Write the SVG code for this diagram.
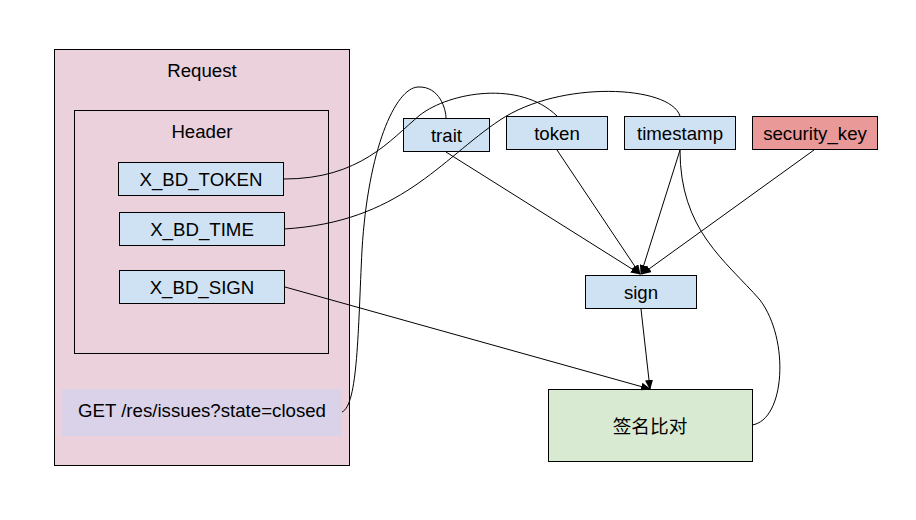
<svg xmlns="http://www.w3.org/2000/svg" width="916" height="520" viewBox="0 0 916 520">
<defs>
<style>
.box{stroke:#000;stroke-width:1}
.blue{fill:#cfe2f3}
.t{font-family:"Liberation Sans",Arial,sans-serif;font-size:18.67px;fill:#000;text-anchor:middle}
.cjk{font-family:"Liberation Sans","Noto Sans CJK SC",sans-serif;font-size:18.67px;fill:#000;text-anchor:middle;dominant-baseline:central}
.c{fill:none;stroke:#000;stroke-width:1}
</style>
<marker id="ah" markerWidth="10" markerHeight="8" refX="9" refY="4" orient="auto" markerUnits="userSpaceOnUse">
<path d="M0,0 L10,4 L0,8 Z" fill="#000"/>
</marker>
</defs>
<rect width="916" height="520" fill="#fff"/>
<g id="request">
<rect class="box" x="54.5" y="49.5" width="295" height="416" fill="#ead1dc"/>
<text class="t" x="202" y="77">Request</text>
</g>
<g id="header">
<rect class="box" x="74.5" y="110.5" width="254" height="243" fill="none"/>
<text class="t" x="202" y="138">Header</text>
</g>
<g id="x_bd_token">
<rect class="box blue" x="118.5" y="162.5" width="165" height="33"/>
<text class="t" x="201" y="186">X_BD_TOKEN</text>
</g>
<g id="x_bd_time">
<rect class="box blue" x="119.5" y="212.5" width="165" height="33"/>
<text class="t" x="202" y="236">X_BD_TIME</text>
</g>
<g id="x_bd_sign">
<rect class="box blue" x="119.5" y="270.5" width="165" height="33"/>
<text class="t" x="202" y="294">X_BD_SIGN</text>
</g>
<g id="get">
<rect x="62" y="389" width="280" height="47" fill="#d9d2e9"/>
<text class="t" x="202" y="417">GET /res/issues?state=closed</text>
</g>
<g id="trait">
<rect class="box blue" x="403.5" y="118.5" width="86" height="33"/>
<text class="t" x="446.5" y="141.5">trait</text>
</g>
<g id="token">
<rect class="box blue" x="506.5" y="116.5" width="101" height="33"/>
<text class="t" x="557" y="140">token</text>
</g>
<g id="timestamp">
<rect class="box blue" x="624.5" y="116.5" width="111" height="33"/>
<text class="t" x="680" y="140">timestamp</text>
</g>
<g id="security_key">
<rect class="box" x="752.5" y="116.5" width="125" height="33" fill="#ea9999"/>
<text class="t" x="815" y="140">security_key</text>
</g>
<g id="sign">
<rect class="box blue" x="585.5" y="275.5" width="111" height="33"/>
<text class="t" x="641" y="298.5">sign</text>
</g>
<g id="compare">
<rect class="box" x="548.5" y="389.5" width="204" height="72" fill="#d9ead3"/>
<text class="cjk" x="650" y="426">签名比对</text>
</g>
<g id="connectors">
<path class="c" d="M284,179 C360,179 390,140 420,115 C450,92 520,80 557,116"/>
<path class="c" d="M284,229 C400,222 440,160 500,120 C560,80 670,85 680,116"/>
<path class="c" d="M342,412 C358,405 358,330 362,250 C368,150 395,88 418,87 C440,86 446,110 446,118"/>
<path class="c" d="M680,150 C680,230 725,260 760,300 C790,340 785,420 752,425"/>
<path class="c" d="M446,152 L640,274" marker-end="url(#ah)"/>
<path class="c" d="M557,150 L640,274" marker-end="url(#ah)"/>
<path class="c" d="M680,150 L641,274" marker-end="url(#ah)"/>
<path class="c" d="M814,150 L642,274" marker-end="url(#ah)"/>
<path class="c" d="M641,309 L650,389" marker-end="url(#ah)"/>
<path class="c" d="M285,287 L650,389" marker-end="url(#ah)"/>
</g>
</svg>
